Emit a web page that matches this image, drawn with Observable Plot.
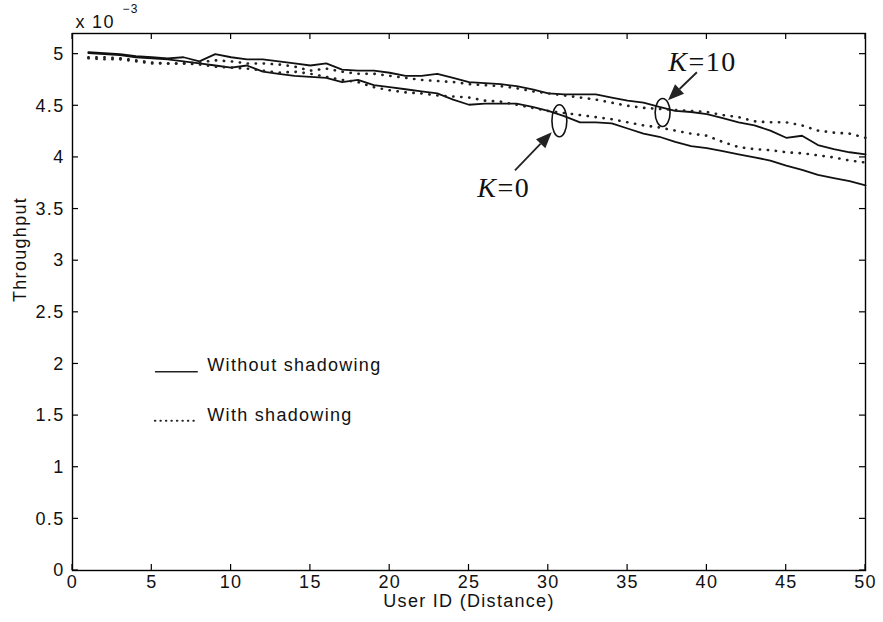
<!DOCTYPE html>
<html><head><meta charset="utf-8">
<script src="https://cdn.jsdelivr.net/npm/d3@7"></script>
<script src="https://cdn.jsdelivr.net/npm/@observablehq/plot@0.6"></script>
<style>
body{margin:0;background:#fff}
#chart{width:883px;height:622px}
#chart svg text{letter-spacing:1.3px}
#chart svg g.klabel text{letter-spacing:1.5px}
</style>
</head><body><div id="chart"></div>
<script>
// User IDs
const userIds = [1,2,3,4,5,6,7,8,9,10,11,12,13,14,15,16,17,18,19,20,21,22,23,24,25,26,27,28,29,30,31,32,33,34,35,36,37,38,39,40,41,42,43,44,45,46,47,48,49,50];
// Throughput (x 10^-3)
const k10NoShadow = [5.02,5.01,5.00,4.98,4.97,4.96,4.97,4.93,5.00,4.97,4.95,4.95,4.93,4.91,4.89,4.91,4.85,4.84,4.84,4.82,4.79,4.79,4.81,4.77,4.73,4.72,4.71,4.69,4.66,4.62,4.61,4.61,4.61,4.58,4.55,4.53,4.49,4.45,4.44,4.42,4.38,4.34,4.31,4.26,4.19,4.21,4.12,4.08,4.05,4.03];
const k0NoShadow = [5.01,5.00,4.99,4.97,4.96,4.95,4.93,4.91,4.89,4.87,4.89,4.83,4.81,4.79,4.78,4.77,4.73,4.75,4.70,4.68,4.66,4.64,4.62,4.56,4.51,4.52,4.52,4.52,4.49,4.45,4.40,4.34,4.34,4.33,4.28,4.23,4.20,4.15,4.11,4.09,4.06,4.03,4.00,3.97,3.92,3.88,3.83,3.80,3.77,3.73];
const k10Shadow = [4.97,4.97,4.96,4.94,4.92,4.91,4.91,4.92,4.94,4.93,4.91,4.91,4.90,4.88,4.84,4.86,4.83,4.81,4.81,4.79,4.77,4.75,4.74,4.73,4.71,4.70,4.69,4.67,4.64,4.62,4.60,4.58,4.56,4.53,4.50,4.48,4.47,4.46,4.45,4.44,4.41,4.39,4.35,4.34,4.34,4.31,4.26,4.24,4.23,4.19];
const k0Shadow = [4.96,4.95,4.95,4.93,4.91,4.91,4.91,4.90,4.88,4.87,4.86,4.84,4.82,4.83,4.81,4.78,4.75,4.73,4.68,4.65,4.63,4.62,4.60,4.59,4.58,4.55,4.54,4.51,4.48,4.45,4.43,4.41,4.39,4.37,4.34,4.31,4.29,4.26,4.23,4.21,4.15,4.10,4.08,4.07,4.05,4.04,4.02,4.00,3.97,3.95];

const xTicks = [0,5,10,15,20,25,30,35,40,45,50];
const yTicks = [0,0.5,1,1.5,2,2.5,3,3.5,4,4.5,5];

// annotations (data units)
const ellipses = [{x:30.73, y:4.35, rx:0.47, ry:0.155}, {x:37.24, y:4.43, rx:0.47, ry:0.136}];
const arrows = [{x1:27.93, y1:3.87, x2:30.25, y2:4.24}, {x1:39.4, y1:4.82, x2:37.58, y2:4.55}];
const kLabels = [{x:26.8, y:3.70, k:"K", v:"=0"}, {x:38.84, y:4.92, k:"K", v:"=10"}];
const legendLabels = ["Without shadowing", "With shadowing"];
const legendY = [1.99, 1.50];
const legendX = [5.2, 7.9, 8.5];

const rows = (arr) => userIds.map((u,i) => ({u, v: arr[i]}));
const dotted = "0.3,7.7";

// inward tick marks on all four sides, placed through the x/y scales
function tickMarks(index, scales, values, dims) {
  const {width, height, marginTop, marginRight, marginBottom, marginLeft} = dims;
  const top = marginTop, bottom = height - marginBottom, left = marginLeft, right = width - marginRight;
  const len = 6;
  const g = d3.create("svg:g").attr("stroke","#000").attr("stroke-width",1.2);
  for (const t of xTicks) {
    const x = scales.x(t);
    g.append("line").attr("x1",x).attr("x2",x).attr("y1",bottom).attr("y2",bottom-len);
    g.append("line").attr("x1",x).attr("x2",x).attr("y1",top).attr("y2",top+len);
  }
  for (const t of yTicks) {
    const y = scales.y(t);
    g.append("line").attr("y1",y).attr("y2",y).attr("x1",left).attr("x2",left+len);
    g.append("line").attr("y1",y).attr("y2",y).attr("x1",right).attr("x2",right-len);
  }
  return g.node();
}
function ellipseMark(index, scales) {
  const g = d3.create("svg:g").attr("fill","none").attr("stroke","#111").attr("stroke-width",1.6);
  for (const e of ellipses) {
    const cx = scales.x(e.x), cy = scales.y(e.y);
    g.append("ellipse").attr("cx",cx).attr("cy",cy)
      .attr("rx", Math.abs(scales.x(e.x+e.rx)-cx)).attr("ry", Math.abs(scales.y(e.y+e.ry)-cy));
  }
  return g.node();
}
function arrowMark(index, scales) {
  const g = d3.create("svg:g");
  for (const a of arrows) {
    const x1 = scales.x(a.x1), y1 = scales.y(a.y1), x2 = scales.x(a.x2), y2 = scales.y(a.y2);
    const ang = Math.atan2(y2-y1, x2-x1), L = 16, W = 6.5;
    const bx = x2 - L*Math.cos(ang), by = y2 - L*Math.sin(ang);
    g.append("line").attr("x1",x1).attr("y1",y1).attr("x2",bx).attr("y2",by).attr("stroke","#222").attr("stroke-width",1.8);
    const px = -Math.sin(ang)*W, py = Math.cos(ang)*W;
    g.append("path").attr("d",`M${x2},${y2}L${bx+px},${by+py}L${bx-px},${by-py}Z`).attr("fill","#222");
  }
  return g.node();
}

const font = "Liberation Sans, Arial, Helvetica, sans-serif";
const serif = "Liberation Serif, Times New Roman, serif";

const chart = Plot.plot({
  width: 883, height: 622,
  marginTop: 33, marginRight: 18, marginBottom: 52, marginLeft: 72,
  style: {fontFamily: font, fontSize: "18px", color: "#111", background: "#fff"},
  x: {domain: [0,50]},
  y: {domain: [0,5.2]},
  marks: [
    Plot.frame({stroke:"#000", strokeWidth: 1.4}),
    tickMarks,
    Plot.axisX({anchor:"bottom", ticks: xTicks, tickSize: 0, tickPadding: 5, tickFormat: d3.format("d"), label: null, fontSize: 18}),
    Plot.axisY({anchor:"left", ticks: yTicks, tickSize: 0, tickPadding: 8, tickFormat: d3.format(""), label: null, fontSize: 18}),
    Plot.line(rows(k10NoShadow), {x:"u", y:"v", stroke:"#111", strokeWidth: 1.8}),
    Plot.line(rows(k0NoShadow), {x:"u", y:"v", stroke:"#111", strokeWidth: 1.8}),
    Plot.line(rows(k10Shadow), {x:"u", y:"v", stroke:"#222", strokeWidth: 2.6, strokeDasharray: dotted, strokeLinecap:"round"}),
    Plot.line(rows(k0Shadow), {x:"u", y:"v", stroke:"#222", strokeWidth: 2.6, strokeDasharray: dotted, strokeLinecap:"round"}),
    ellipseMark,
    arrowMark,
    Plot.text(kLabels, {x:"x", y:"y", text:"k", textAnchor:"end", fontFamily: serif, fontStyle:"italic", fontSize: 28, fill:"#111", className:"klabel"}),
    Plot.text(kLabels, {x:"x", y:"y", text:"v", textAnchor:"start", fontFamily: serif, fontSize: 28, fill:"#111", className:"klabel"}),
    // legend
    Plot.link([legendY[0]], {x1: () => legendX[0], x2: () => legendX[1], y1: d => d - 0.065, y2: d => d - 0.065, stroke:"#222", strokeWidth: 1.5}),
    Plot.link([legendY[1]], {x1: () => legendX[0], x2: () => legendX[1], y1: d => d - 0.05, y2: d => d - 0.05, stroke:"#222", strokeWidth: 2.2, strokeDasharray: "0.3,5.2", strokeLinecap:"round"}),
    Plot.text(legendLabels, {x: () => legendX[2], y: (d, i) => legendY[i], text: d => d, textAnchor:"start", fontSize: 18, fill:"#111"}),
    // axis titles and exponent
    Plot.text(["User ID (Distance)"], {frameAnchor:"bottom", text: d => d, dy: 36, fontSize: 18, fill:"#111"}),
    Plot.text(["Throughput"], {frameAnchor:"left", text: d => d, rotate: -90, dx: -52, fontSize: 18, fill:"#111"}),
    Plot.text(["x 10"], {frameAnchor:"top-left", text: d => d, textAnchor:"start", dx: 3, dy: -18, fontSize: 18, fill:"#111"}),
    Plot.text(["\u22123"], {frameAnchor:"top-left", text: d => d, textAnchor:"start", dx: 50, dy: -29, fontSize: 12, fill:"#111"})
  ]
});
document.getElementById("chart").appendChild(chart);
</script></body></html>
